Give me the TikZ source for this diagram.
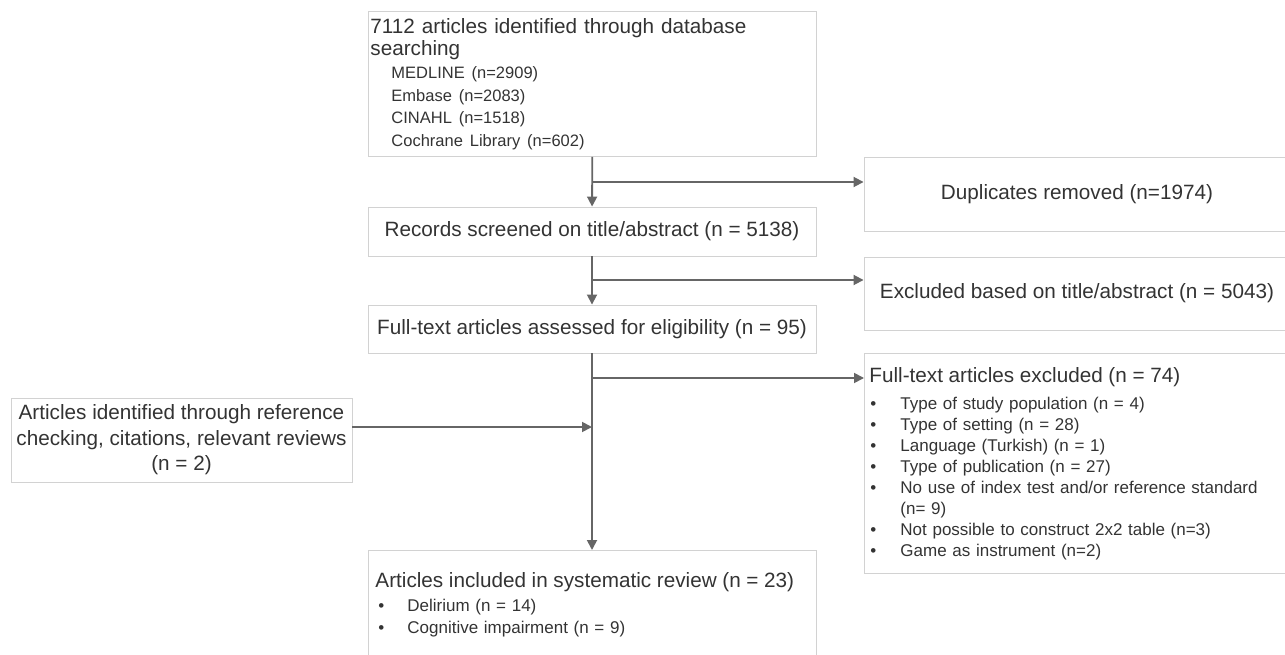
\documentclass[tikz,border=0pt]{standalone}
\usepackage{fontspec}
\setmainfont{Liberation Sans}
\usetikzlibrary{arrows.meta}
\definecolor{txtgray}{HTML}{333333}
\definecolor{linegray}{HTML}{666666}
\definecolor{boxgray}{HTML}{D2D2D2}

\begin{document}
\begin{tikzpicture}[
  x=1pt, y=-1pt,
  >={Triangle[length=10pt,width=10pt]},
  every node/.style={font=\fontsize{20.7}{25}\selectfont,text=txtgray},
  box node/.style={rectangle,draw=boxgray,line width=0.9pt,inner sep=2pt},
  list node/.style={box node,align=left,anchor=north west},
  flow/.style={draw=linegray,line width=1.8pt},
]
\clip (0,0) rectangle (1285,655);
\node[list node,minimum width=448pt,minimum height=145pt,text width=444pt,
  font=\fontsize{20.7}{22.6}\selectfont] (Search) at (368,11) {7112 articles identified through database\\
searching\\
\hspace*{21pt}{\fontsize{16.5}{22.6}\selectfont MEDLINE (n=2909)}\\
\hspace*{21pt}{\fontsize{16.5}{22.6}\selectfont Embase (n=2083)}\\
\hspace*{21pt}{\fontsize{16.5}{22.6}\selectfont CINAHL (n=1518)}\\
\hspace*{21pt}{\fontsize{16.5}{22.6}\selectfont Cochrane Library (n=602)}};
\node[box node,minimum width=448pt,minimum height=49pt] (Screen) at (592,231.5) {Records screened on title/abstract (n = 5138)};
\node[box node,minimum width=448pt,minimum height=48pt] (FullText) at (592,329) {Full-text articles assessed for eligibility (n = 95)};
\node[box node,minimum width=426pt,minimum height=74pt] (Dup) at (1077,194) {Duplicates removed (n=1974)};
\node[box node,minimum width=426pt,minimum height=73pt] (ExclTA) at (1077,293.5) {Excluded based on title/abstract (n = 5043)};
\node[list node,minimum width=426pt,minimum height=220pt,inner xsep=5pt,text width=416pt,
  font=\fontsize{17}{20.9}\selectfont] (ExclFT) at (864,353) {\vspace*{9.5pt}{\fontsize{20.7}{20.9}\selectfont Full-text articles excluded (n = 74)}\\[-3pt]
\hspace*{1pt}\makebox[30pt][l]{\textbullet}Type of study population (n = 4)\\
\hspace*{1pt}\makebox[30pt][l]{\textbullet}Type of setting (n = 28)\\
\hspace*{1pt}\makebox[30pt][l]{\textbullet}Language (Turkish) (n = 1)\\
\hspace*{1pt}\makebox[30pt][l]{\textbullet}Type of publication (n = 27)\\
\hspace*{1pt}\makebox[30pt][l]{\textbullet}No use of index test and/or reference standard\\
\hspace*{31pt}(n= 9)\\
\hspace*{1pt}\makebox[30pt][l]{\textbullet}Not possible to construct 2x2 table (n=3)\\
\hspace*{1pt}\makebox[30pt][l]{\textbullet}Game as instrument (n=2)};
\node[box node,minimum width=341pt,minimum height=84pt,align=center,
  font=\fontsize{20.7}{25.5}\selectfont] (Extra) at (181.5,440) {Articles identified through reference\\
checking, citations, relevant reviews\\
(n = 2)};
\node[list node,minimum width=448pt,minimum height=108pt,inner xsep=7pt,text width=434pt,
  font=\fontsize{17}{22}\selectfont] (Incl) at (368,550) {{\fontsize{20.7}{22}\selectfont Articles included in systematic review (n = 23)}\\[2pt]
\hspace*{3pt}\makebox[29pt][l]{\textbullet}Delirium (n = 14)\\
\hspace*{3pt}\makebox[29pt][l]{\textbullet}Cognitive impairment (n = 9)};
\coordinate (DupFork) at (592,182);
\coordinate (TAFork) at (592,280);
\coordinate (FTFork) at (592,378);
\coordinate (ExtraJoin) at (592,427);
\draw[flow,->] (Search) -- (Screen);
\draw[flow,->] (Screen) -- (FullText);
\draw[flow,->] (FullText) -- (Incl.north -| FullText.south);
\draw[flow,->] (DupFork) -- (DupFork -| Dup.west);
\draw[flow,->] (TAFork) -- (TAFork -| ExclTA.west);
\draw[flow,->] (FTFork) -- (FTFork -| ExclFT.west);
\draw[flow,->] (Extra.east |- ExtraJoin) -- (ExtraJoin);
\end{tikzpicture}
\end{document}
